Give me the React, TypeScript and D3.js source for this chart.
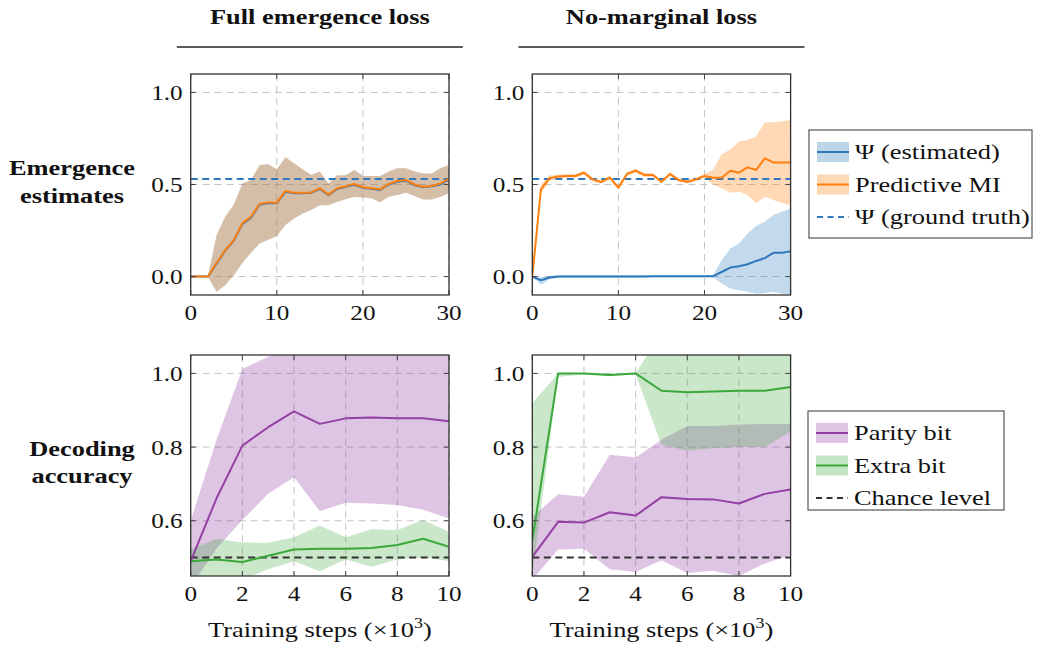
import * as d3 from 'd3';

// training steps (x10^3) for the two kinds of runs
const stepsLong = [0, 1, 2, 3, 4, 5, 6, 7, 8, 9, 10, 11, 12, 13, 14, 15, 16, 17, 18, 19, 20, 21, 22, 23, 24, 25, 26, 27, 28, 29, 30];
const stepsShort = [0, 1, 2, 3, 4, 5, 6, 7, 8, 9, 10];

// top-left: full emergence loss
const miFull = [0, 0, 0, 0.074, 0.143, 0.198, 0.29, 0.325, 0.394, 0.403, 0.4, 0.465, 0.455, 0.455, 0.457, 0.48, 0.445, 0.48, 0.49, 0.503, 0.485, 0.48, 0.474, 0.503, 0.519, 0.524, 0.5, 0.488, 0.492, 0.506, 0.532];
const psiFull = [0, 0, 0, 0.07, 0.14, 0.195, 0.285, 0.32, 0.39, 0.4, 0.398, 0.46, 0.452, 0.452, 0.455, 0.476, 0.442, 0.476, 0.487, 0.498, 0.482, 0.477, 0.47, 0.5, 0.515, 0.52, 0.497, 0.485, 0.49, 0.5, 0.528];
const fullHi = [0, 0, 0, 0.225, 0.325, 0.39, 0.506, 0.525, 0.606, 0.61, 0.583, 0.648, 0.615, 0.583, 0.552, 0.57, 0.506, 0.55, 0.55, 0.579, 0.546, 0.546, 0.546, 0.57, 0.588, 0.588, 0.57, 0.56, 0.56, 0.588, 0.606];
const fullLo = [0, 0, 0, -0.083, -0.047, 0.007, 0.074, 0.129, 0.18, 0.2, 0.22, 0.28, 0.316, 0.343, 0.361, 0.387, 0.388, 0.407, 0.42, 0.434, 0.43, 0.425, 0.403, 0.434, 0.443, 0.455, 0.437, 0.419, 0.419, 0.434, 0.452];

// top-right: no-marginal loss
const miNoMarg = [0, 0.474, 0.534, 0.543, 0.546, 0.546, 0.564, 0.528, 0.514, 0.537, 0.483, 0.557, 0.575, 0.552, 0.552, 0.515, 0.557, 0.524, 0.515, 0.528, 0.546, 0.537, 0.537, 0.575, 0.564, 0.593, 0.579, 0.642, 0.62, 0.619, 0.619];
const miNoMargHi = [0, 0.5, 0.55, 0.553, 0.556, 0.556, 0.574, 0.538, 0.524, 0.547, 0.493, 0.567, 0.585, 0.562, 0.562, 0.525, 0.567, 0.534, 0.525, 0.538, 0.556, 0.58, 0.666, 0.69, 0.733, 0.742, 0.76, 0.838, 0.838, 0.842, 0.851];
const miNoMargLo = [0, 0.45, 0.52, 0.533, 0.536, 0.536, 0.554, 0.518, 0.504, 0.527, 0.473, 0.547, 0.565, 0.542, 0.542, 0.505, 0.547, 0.514, 0.505, 0.518, 0.536, 0.5, 0.479, 0.455, 0.461, 0.443, 0.4, 0.434, 0.416, 0.4, 0.388];
const psiNoMarg = [0, -0.02, -0.005, 0, 0.001, 0.001, 0.001, 0.001, 0.001, 0.001, 0.001, 0.001, 0.001, 0.001, 0.002, 0.002, 0.002, 0.002, 0.002, 0.002, 0.002, 0.002, 0.025, 0.049, 0.056, 0.067, 0.085, 0.1, 0.129, 0.13, 0.138];
const psiNoMargHi = [0, -0.005, 0.005, 0.006, 0.007, 0.007, 0.007, 0.007, 0.007, 0.007, 0.007, 0.007, 0.007, 0.007, 0.008, 0.008, 0.008, 0.008, 0.008, 0.008, 0.008, 0.008, 0.089, 0.152, 0.18, 0.234, 0.274, 0.298, 0.334, 0.352, 0.37];
const psiNoMargLo = [0, -0.044, -0.015, -0.006, -0.005, -0.005, -0.005, -0.005, -0.005, -0.005, -0.005, -0.005, -0.005, -0.005, -0.004, -0.004, -0.004, -0.004, -0.004, -0.004, -0.004, -0.004, -0.038, -0.065, -0.074, -0.083, -0.093, -0.089, -0.083, -0.093, -0.096];
const psiTruth = 0.53;

// bottom-left: decoding with full emergence loss
const parityFull = [0.49, 0.661, 0.804, 0.854, 0.897, 0.863, 0.878, 0.88, 0.878, 0.878, 0.87];
const parityFullHi = [0.6, 0.82, 1.012, 1.045, 1.08, 1.08, 1.08, 1.08, 1.08, 1.08, 1.08];
const parityFullLo = [0.42, 0.525, 0.602, 0.673, 0.718, 0.626, 0.649, 0.647, 0.643, 0.63, 0.606];
const extraFull = [0.49, 0.495, 0.488, 0.505, 0.522, 0.524, 0.524, 0.526, 0.534, 0.551, 0.529];
const extraFullHi = [0.522, 0.551, 0.541, 0.54, 0.555, 0.587, 0.555, 0.577, 0.575, 0.602, 0.57];
const extraFullLo = [0.44, 0.43, 0.44, 0.468, 0.49, 0.463, 0.495, 0.475, 0.495, 0.5, 0.491];

// bottom-right: decoding with no-marginal loss
const parityNoMarg = [0.502, 0.597, 0.595, 0.623, 0.614, 0.664, 0.659, 0.658, 0.647, 0.673, 0.685];
const parityNoMargHi = [0.61, 0.672, 0.665, 0.779, 0.772, 0.82, 0.857, 0.857, 0.861, 0.863, 0.863];
const parityNoMargLo = [0.44, 0.522, 0.524, 0.468, 0.461, 0.493, 0.458, 0.464, 0.45, 0.484, 0.507];
const extraNoMarg = [0.547, 1.0, 1.0, 0.996, 1.0, 0.953, 0.949, 0.951, 0.953, 0.953, 0.963];
const extraNoMargHi = [0.919, 1.0, 1.0, 1.0, 1.0, 1.11, 1.12, 1.12, 1.12, 1.12, 1.12];
const extraNoMargLo = [0.45, 0.99, 0.998, 0.992, 0.998, 0.806, 0.79, 0.797, 0.8, 0.8, 0.842];
const chance = 0.5;

const xTicksLong = [0, 10, 20, 30];
const xTicksShort = [0, 2, 4, 6, 8, 10];
const yTicksTop = [0, 0.5, 1.0];
const yTicksBottom = [0.6, 0.8, 1.0];

const colTitles = ['Full emergence loss', 'No-marginal loss'];
const legendTop = ['\u03A8 (estimated)', 'Predictive MI', '\u03A8 (ground truth)'];
const legendBottom = ['Parity bit', 'Extra bit', 'Chance level'];

const FONT = "'Liberation Serif', Tinos, 'Times New Roman', 'DejaVu Serif', serif";
// the figure's type is stretched horizontally
const SX = 1.2;
const BLUE = '#2f78bd';
const ORANGE = '#ff7f0e';
const PURPLE = '#9440a4';
const GREEN = '#3aa83a';
const CHANCE = '#333333';

const PW = 258.3;
const PH = 221;
const COL_X = [190.7, 532.3];
const ROW_Y = [74, 355];

function T({
  x,
  y,
  size,
  anchor = 'start',
  bold = false,
  children,
}: {
  x: number;
  y: number;
  size: number;
  anchor?: 'start' | 'middle' | 'end';
  bold?: boolean;
  children: React.ReactNode;
}) {
  return (
    <text
      transform={`translate(${x},${y}) scale(${SX},1)`}
      textAnchor={anchor}
      fontSize={size}
      fontWeight={bold ? 'bold' : 'normal'}
      style={{ fontFamily: FONT }}
      fill="#111"
    >
      {children}
    </text>
  );
}

type Band = { lo: number[]; hi: number[]; color: string; opacity: number };
type Series = { values: number[]; color: string };
type HLine = { value: number; color: string };

interface PanelProps {
  id: string;
  left: number;
  top: number;
  xs: number[];
  xTicks: number[];
  yDomain: [number, number];
  yTicks: number[];
  bands: Band[];
  lines: Series[];
  hline: HLine;
}

function Panel({ id, left, top, xs, xTicks, yDomain, yTicks, bands, lines, hline }: PanelProps) {
  const x = d3.scaleLinear().domain([xs[0], xs[xs.length - 1]]).range([left, left + PW]);
  const y = d3.scaleLinear().domain(yDomain).range([top + PH, top]);
  const area = d3.area<number>().x((_, i) => x(xs[i]));
  const line = d3
    .line<number>()
    .x((_, i) => x(xs[i]))
    .y((d) => y(d));
  const tick = 5;

  return (
    <g>
      <defs>
        <clipPath id={id}>
          <rect x={left} y={top} width={PW} height={PH} />
        </clipPath>
      </defs>
      {/* grid */}
      {xTicks.map((t) => (
        <line key={'gx' + t} x1={x(t)} x2={x(t)} y1={top} y2={top + PH} stroke="#c4c4c4" strokeDasharray="7,5" />
      ))}
      {yTicks.map((t) => (
        <line key={'gy' + t} x1={left} x2={left + PW} y1={y(t)} y2={y(t)} stroke="#c4c4c4" strokeDasharray="7,5" />
      ))}
      <g clipPath={`url(#${id})`}>
        {bands.map((b, i) => (
          <path
            key={'b' + i}
            d={area.y0((_, k) => y(b.lo[k])).y1((_, k) => y(b.hi[k]))(b.lo) ?? ''}
            fill={b.color}
            fillOpacity={b.opacity}
          />
        ))}
        <line
          x1={left}
          x2={left + PW}
          y1={y(hline.value)}
          y2={y(hline.value)}
          stroke={hline.color}
          strokeWidth={2}
          strokeDasharray="7,4.5"
        />
        {lines.map((s, i) => (
          <path key={'l' + i} d={line(s.values) ?? ''} fill="none" stroke={s.color} strokeWidth={2} strokeLinejoin="round" />
        ))}
      </g>
      {/* inward ticks on all sides */}
      {xTicks.map((t) => (
        <g key={'tx' + t} stroke="#444" strokeWidth={1}>
          <line x1={x(t)} x2={x(t)} y1={top + PH} y2={top + PH - tick} />
          <line x1={x(t)} x2={x(t)} y1={top} y2={top + tick} />
        </g>
      ))}
      {yTicks.map((t) => (
        <g key={'ty' + t} stroke="#444" strokeWidth={1}>
          <line x1={left} x2={left + tick} y1={y(t)} y2={y(t)} />
          <line x1={left + PW} x2={left + PW - tick} y1={y(t)} y2={y(t)} />
        </g>
      ))}
      <rect x={left} y={top} width={PW} height={PH} fill="none" stroke="#333" strokeWidth={1.3} />
      {xTicks.map((t) => (
        <T key={'lx' + t} x={x(t)} y={top + PH + 25} size={21} anchor="middle">
          {t}
        </T>
      ))}
      {yTicks.map((t) => (
        <T key={'ly' + t} x={left - 8} y={y(t) + 7.5} size={21} anchor="end">
          {d3.format('.1f')(t)}
        </T>
      ))}
    </g>
  );
}

interface LegendItem {
  label: string;
  color: string;
  band?: string;
  dashed?: boolean;
}

function Legend({ x, y, w, h, items }: { x: number; y: number; w: number; h: number; items: LegendItem[] }) {
  return (
    <g>
      <rect x={x} y={y} width={w} height={h} fill="white" stroke="#555" strokeWidth={1.2} />
      {items.map((it, i) => {
        const cy = y + 22 + i * 32.5;
        return (
          <g key={it.label}>
            {it.band && <rect x={x + 8} y={cy - 10} width={32} height={20} fill={it.band} fillOpacity={0.3} />}
            <line
              x1={x + 8}
              x2={x + 40}
              y1={cy}
              y2={cy}
              stroke={it.color}
              strokeWidth={2}
              strokeDasharray={it.dashed ? '6,4.5' : undefined}
            />
            <T x={x + 46} y={cy + 7} size={22}>
              {it.label}
            </T>
          </g>
        );
      })}
    </g>
  );
}

export default function App() {
  return (
    <svg width={1037} height={649} style={{ position: 'absolute', left: 0, top: 0, background: 'white' }}>
      {colTitles.map((t, i) => {
        const cx = COL_X[i] + PW / 2;
        return (
          <g key={t}>
            <T x={cx} y={24} size={22} anchor="middle" bold>
              {t}
            </T>
            <line x1={cx - 143} x2={cx + 143} y1={47} y2={47} stroke="#222" strokeWidth={1.3} />
            <T x={cx} y={637} size={22} anchor="middle">
              Training steps (×10
              <tspan fontSize={15} dy={-9}>
                3
              </tspan>
              <tspan dy={9}>)</tspan>
            </T>
          </g>
        );
      })}

      <T x={72} y={175} size={22} anchor="middle" bold>
        Emergence
      </T>
      <T x={72} y={203} size={22} anchor="middle" bold>
        estimates
      </T>
      <T x={82} y={456} size={22} anchor="middle" bold>
        Decoding
      </T>
      <T x={82} y={483} size={22} anchor="middle" bold>
        accuracy
      </T>

      <Panel
        id="clip-tl"
        left={COL_X[0]}
        top={ROW_Y[0]}
        xs={stepsLong}
        xTicks={xTicksLong}
        yDomain={[-0.1, 1.1]}
        yTicks={yTicksTop}
        bands={[
          { lo: fullLo, hi: fullHi, color: '#1f77b4', opacity: 0.27 },
          { lo: fullLo, hi: fullHi, color: ORANGE, opacity: 0.3 },
        ]}
        lines={[
          { values: psiFull, color: BLUE },
          { values: miFull, color: ORANGE },
        ]}
        hline={{ value: psiTruth, color: BLUE }}
      />
      <Panel
        id="clip-tr"
        left={COL_X[1]}
        top={ROW_Y[0]}
        xs={stepsLong}
        xTicks={xTicksLong}
        yDomain={[-0.1, 1.1]}
        yTicks={yTicksTop}
        bands={[
          { lo: psiNoMargLo, hi: psiNoMargHi, color: '#1f77b4', opacity: 0.27 },
          { lo: miNoMargLo, hi: miNoMargHi, color: ORANGE, opacity: 0.3 },
        ]}
        lines={[
          { values: psiNoMarg, color: BLUE },
          { values: miNoMarg, color: ORANGE },
        ]}
        hline={{ value: psiTruth, color: BLUE }}
      />
      <Panel
        id="clip-bl"
        left={COL_X[0]}
        top={ROW_Y[1]}
        xs={stepsShort}
        xTicks={xTicksShort}
        yDomain={[0.45, 1.05]}
        yTicks={yTicksBottom}
        bands={[
          { lo: parityFullLo, hi: parityFullHi, color: PURPLE, opacity: 0.3 },
          { lo: extraFullLo, hi: extraFullHi, color: GREEN, opacity: 0.27 },
        ]}
        lines={[
          { values: parityFull, color: PURPLE },
          { values: extraFull, color: GREEN },
        ]}
        hline={{ value: chance, color: CHANCE }}
      />
      <Panel
        id="clip-br"
        left={COL_X[1]}
        top={ROW_Y[1]}
        xs={stepsShort}
        xTicks={xTicksShort}
        yDomain={[0.45, 1.05]}
        yTicks={yTicksBottom}
        bands={[
          { lo: parityNoMargLo, hi: parityNoMargHi, color: PURPLE, opacity: 0.3 },
          { lo: extraNoMargLo, hi: extraNoMargHi, color: GREEN, opacity: 0.27 },
        ]}
        lines={[
          { values: parityNoMarg, color: PURPLE },
          { values: extraNoMarg, color: GREEN },
        ]}
        hline={{ value: chance, color: CHANCE }}
      />

      <Legend
        x={809}
        y={130}
        w={223}
        h={108}
        items={[
          { label: legendTop[0], color: BLUE, band: '#1f77b4' },
          { label: legendTop[1], color: ORANGE, band: ORANGE },
          { label: legendTop[2], color: BLUE, dashed: true },
        ]}
      />
      <Legend
        x={808}
        y={411}
        w={196}
        h={99}
        items={[
          { label: legendBottom[0], color: PURPLE, band: PURPLE },
          { label: legendBottom[1], color: GREEN, band: GREEN },
          { label: legendBottom[2], color: CHANCE, dashed: true },
        ]}
      />
    </svg>
  );
}
